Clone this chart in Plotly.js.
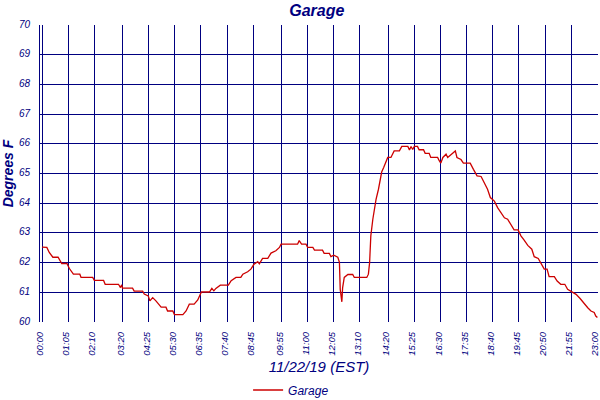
<!DOCTYPE html>
<html>
<head>
<meta charset="utf-8">
<script src="https://cdn.plot.ly/plotly-3.0.1.min.js"></script>
<style>
  body { margin: 0; background: #fff; }
  #chart { width: 600px; height: 400px; }
</style>
</head>
<body>
<div id="chart"></div>
<script>
// readings for 11/22/19, time of day and degrees F
const day = "2019-11-22 "

const times = [
"00:00","00:12","00:18","00:27","00:40","00:49","01:02","01:08","01:18","01:34",
"01:37","02:06","02:10","02:33","02:37","03:10","03:15","03:18","03:20","03:45",
"03:49","04:10","04:14","04:24","04:28","04:35","04:43","04:51","04:56","05:08",
"05:12","05:25","05:29","05:50","05:58","06:06","06:18","06:27","06:36","06:56",
"07:02","07:07","07:12","07:23","07:43","07:50","08:02","08:14","08:19","08:31",
"08:39","08:47","08:56","09:00","09:08","09:21","09:29","09:41","09:50","09:54",
"10:35","10:39","10:45","10:56","11:00","11:13","11:17","11:37","11:41","11:54",
"11:58","12:05","12:15","12:19","12:21","12:25","12:27","12:31","12:40","12:52",
"12:56","13:27","13:31","13:34","13:37","13:42","13:46","13:50","13:56","14:00",
"14:04","14:09","14:15","14:19","14:27","14:31","14:35","14:48","14:54","15:09",
"15:13","15:17","15:21","15:25","15:33","15:37","15:48","15:52","16:02","16:06",
"16:23","16:27","16:31","16:36","16:44","16:48","16:56","17:01","17:07","17:11",
"17:21","17:27","17:44","17:52","18:01","18:11","18:19","18:27","18:34","18:44",
"18:52","19:00","19:09","19:17","19:25","19:33","19:43","19:50","19:58","20:07",
"20:17","20:23","20:33","20:40","20:48","20:55","21:00","21:13","21:20","21:29",
"21:39","21:46","21:58","22:07","22:17","22:26","22:36","22:44","22:52","22:56",
"23:00"
]

const temps = [
62.52,62.51,62.34,62.18,62.18,61.97,61.97,61.80,61.61,61.61,
61.50,61.50,61.40,61.40,61.27,61.27,61.16,61.25,61.14,61.14,
61.04,61.04,60.94,60.88,60.71,60.82,60.71,60.60,60.50,60.50,
60.37,60.37,60.25,60.25,60.37,60.60,60.60,60.74,61.01,61.01,
61.13,61.05,61.13,61.24,61.24,61.39,61.50,61.50,61.61,61.69,
61.78,61.95,62.03,61.96,62.14,62.14,62.32,62.40,62.51,62.62,
62.62,62.74,62.62,62.62,62.51,62.51,62.42,62.42,62.31,62.31,
62.20,62.25,62.18,62.01,61.10,60.68,61.16,61.50,61.60,61.60,
61.50,61.50,61.61,62.00,62.90,63.46,63.80,64.13,64.47,64.81,
65.05,65.20,65.37,65.54,65.54,65.68,65.76,65.76,65.91,65.91,
65.79,65.91,65.81,65.91,65.91,65.80,65.80,65.68,65.68,65.54,
65.54,65.43,65.35,65.54,65.65,65.54,65.62,65.68,65.76,65.54,
65.47,65.35,65.35,65.14,64.92,64.90,64.69,64.47,64.19,64.07,
63.85,63.68,63.51,63.46,63.26,63.10,63.10,62.90,62.76,62.58,
62.45,62.20,62.14,61.98,61.78,61.78,61.53,61.53,61.38,61.27,
61.27,61.10,61.01,60.93,60.79,60.63,60.48,60.37,60.32,60.20,
60.15
]

const tickLabels = [
"00:00","01:05","02:10","03:20","04:25","05:30","06:35","07:40","08:45","09:55",
"11:00","12:05","13:10","14:20","15:25","16:30","17:35","18:40","19:45","20:50",
"21:55","23:00"
]

const navy = "#000080"
const font = "Liberation Sans, Arial, sans-serif"

let trace = {
  x: times.map(t => day + t),
  y: temps,
  type: "scatter",
  mode: "lines",
  name: "Garage",
  line: {color: "#cc0000", width: 1.3}
}

let layout = {
  width: 600,
  height: 400,
  margin: {l: 40, r: 2, t: 25, b: 78},
  paper_bgcolor: "#ffffff",
  plot_bgcolor: "#ffffff",
  showlegend: true,
  title: {
    text: "Garage",
    x: 0.528, xanchor: "center",
    y: 0.975, yanchor: "middle",
    font: {family: font, size: 16, color: navy, style: "italic", weight: "bold"}
  },
  xaxis: {
    type: "date",
    // start a little before midnight so the 00:00 line sits beside the axis line
    range: ["2019-11-21 23:55:00", day + "23:01:30"],
    tickvals: tickLabels.map(t => day + t),
    ticktext: tickLabels,
    tickangle: -90,
    tickfont: {family: font, size: 9.5, color: navy, style: "italic"},
    ticklabeloverflow: "allow",
    ticklabelshift: -2,
    automargin: false,
    showgrid: true,
    gridcolor: navy,
    gridwidth: 1,
    zeroline: false,
    showline: false,
    ticks: "",
    ticklabelstandoff: 7,
    title: {
      text: "11/22/19 (EST)",
      standoff: 8,
      font: {family: font, size: 15, color: navy, style: "italic"}
    }
  },
  yaxis: {
    range: [60, 70],
    dtick: 1,
    tickfont: {family: font, size: 10, color: navy, style: "italic"},
    automargin: false,
    showgrid: true,
    gridcolor: navy,
    gridwidth: 1,
    zeroline: false,
    showline: true,
    linecolor: navy,
    linewidth: 1,
    ticks: "",
    ticklabelstandoff: 7,
    ticklabelshift: -1,
    title: {
      text: "Degrees F",
      standoff: 8,
      font: {family: font, size: 14, color: navy, style: "italic", weight: "bold"}
    }
  },
  legend: {
    orientation: "h",
    x: 0.45, xanchor: "center",
    yref: "container",
    y: 0.025, yanchor: "middle",
    itemwidth: 30,
    font: {family: font, size: 12, color: navy, style: "italic"}
  }
}

Plotly.newPlot("chart", [trace], layout, {displayModeBar: false, staticPlot: true})
</script>
</body>
</html>
